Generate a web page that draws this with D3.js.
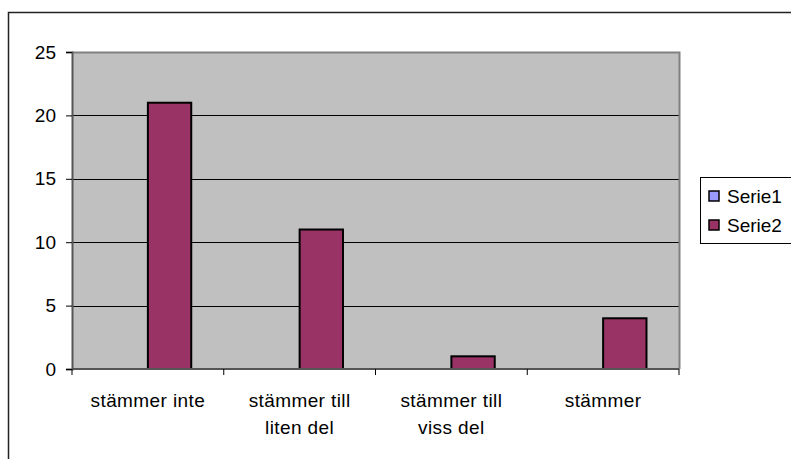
<!DOCTYPE html>
<html>
<head>
<meta charset="utf-8">
<script src="https://cdn.jsdelivr.net/npm/d3@7"></script>
<style>
  body { margin: 0; background: #fff; }
  text { font-family: "Liberation Sans", Arial, sans-serif; fill: #000; }
</style>
</head>
<body>
<svg id="chart" width="791" height="459"></svg>
<script>
// chart data
var categories = ["stämmer inte", "stämmer till liten del", "stämmer till viss del", "stämmer"];
var catLines = [["stämmer inte"], ["stämmer till", "liten del"], ["stämmer till", "viss del"], ["stämmer"]];
var seriesNames = ["Serie1", "Serie2"];
var serie1 = [null, null, null, null];
var serie2 = [21, 11, 1, 4];
var yTicks = [0, 5, 10, 15, 20, 25];
var colors = ["#9999ff", "#993366"];

var svg = d3.select("#chart");

var plot = { left: 72, top: 52, right: 679, bottom: 369 };
var fontSize = "19px";

// outer chart border
svg.append("rect")
  .attr("x", 8.5).attr("y", 12.5)
  .attr("width", 800).attr("height", 460)
  .attr("fill", "#fff")
  .attr("stroke", "#222").attr("stroke-width", 1.5);

var x = d3.scaleBand()
  .domain(categories)
  .range([plot.left, plot.right]);

var y = d3.scaleLinear()
  .domain([0, 25])
  .range([plot.bottom, plot.top]);

// gap width 150% like excel
var barW = x.bandwidth() / 3.5;
var gap = barW * 0.75;

// plot area
svg.append("rect")
  .attr("x", plot.left).attr("y", plot.top)
  .attr("width", plot.right - plot.left)
  .attr("height", plot.bottom - plot.top)
  .attr("fill", "#c0c0c0");

// gridlines
svg.append("g")
  .selectAll("line")
  .data(yTicks.filter(function(d){ return d > 0 && d < 25; }))
  .enter().append("line")
  .attr("x1", plot.left).attr("x2", plot.right)
  .attr("y1", function(d){ return Math.round(y(d)) + 0.5; })
  .attr("y2", function(d){ return Math.round(y(d)) + 0.5; })
  .attr("stroke", "#000").attr("stroke-width", 1);

// plot border top / right
svg.append("path")
  .attr("d", "M" + plot.left + "," + (plot.top + 0.5) + "H" + (plot.right + 0.5) + "V" + plot.bottom)
  .attr("fill", "none")
  .attr("stroke", "#808080").attr("stroke-width", 2);

// bars
var series = [serie1, serie2];
series.forEach(function(vals, si){
  svg.append("g")
    .selectAll("rect")
    .data(vals.map(function(v, i){ return { cat: categories[i], v: v }; }).filter(function(d){ return d.v != null; }))
    .enter().append("rect")
    .attr("x", function(d){ return x(d.cat) + gap + si * barW; })
    .attr("y", function(d){ return y(d.v); })
    .attr("width", barW)
    .attr("height", function(d){ return y(0) - y(d.v); })
    .attr("fill", colors[si])
    .attr("stroke", "#000").attr("stroke-width", 2);
});

// y axis
var yAxis = svg.append("g")
  .attr("transform", "translate(" + plot.left + ",0)")
  .call(d3.axisLeft(y).tickValues(yTicks).tickSize(6).tickPadding(10));
yAxis.select(".domain").attr("stroke", "#555").attr("stroke-width", 2);
yAxis.selectAll(".tick line").attr("stroke", "#000");
yAxis.selectAll("text")
  .style("font-size", fontSize)
  .style("font-family", "Liberation Sans, Arial, sans-serif")
  .attr("fill", "#000");

// x axis
var xAxis = svg.append("g")
  .attr("transform", "translate(0," + plot.bottom + ")");
xAxis.append("line")
  .attr("x1", plot.left).attr("x2", plot.right)
  .attr("stroke", "#555").attr("stroke-width", 2);
xAxis.selectAll(".xtick")
  .data(categories.concat(["end"]))
  .enter().append("line")
  .attr("x1", function(d, i){ return plot.left + i * x.bandwidth(); })
  .attr("x2", function(d, i){ return plot.left + i * x.bandwidth(); })
  .attr("y1", 0).attr("y2", 6)
  .attr("stroke", "#000");

var lbl = xAxis.selectAll(".xlabel")
  .data(categories)
  .enter().append("text")
  .attr("text-anchor", "middle")
  .attr("x", function(d){ return x(d) + x.bandwidth() / 2; })
  .style("font-size", fontSize)
  .style("letter-spacing", "0.4px");
lbl.each(function(d, i){
  d3.select(this).selectAll("tspan")
    .data(catLines[i])
    .enter().append("tspan")
    .attr("x", x(d) + x.bandwidth() / 2)
    .attr("y", function(t, j){ return 38 + j * 27; })
    .text(function(t){ return t; });
});

// legend
var legend = svg.append("g");
legend.append("rect")
  .attr("x", 700.5).attr("y", 177.5)
  .attr("width", 100).attr("height", 66)
  .attr("fill", "#fff")
  .attr("stroke", "#000").attr("stroke-width", 1);
seriesNames.forEach(function(name, i){
  legend.append("rect")
    .attr("x", 709).attr("y", 191 + i * 29)
    .attr("width", 10).attr("height", 10)
    .attr("fill", colors[i])
    .attr("stroke", "#000").attr("stroke-width", 1.5);
  legend.append("text")
    .attr("x", 727).attr("y", 203 + i * 29)
    .style("font-size", fontSize)
    .text(name);
});
</script>
</body>
</html>
